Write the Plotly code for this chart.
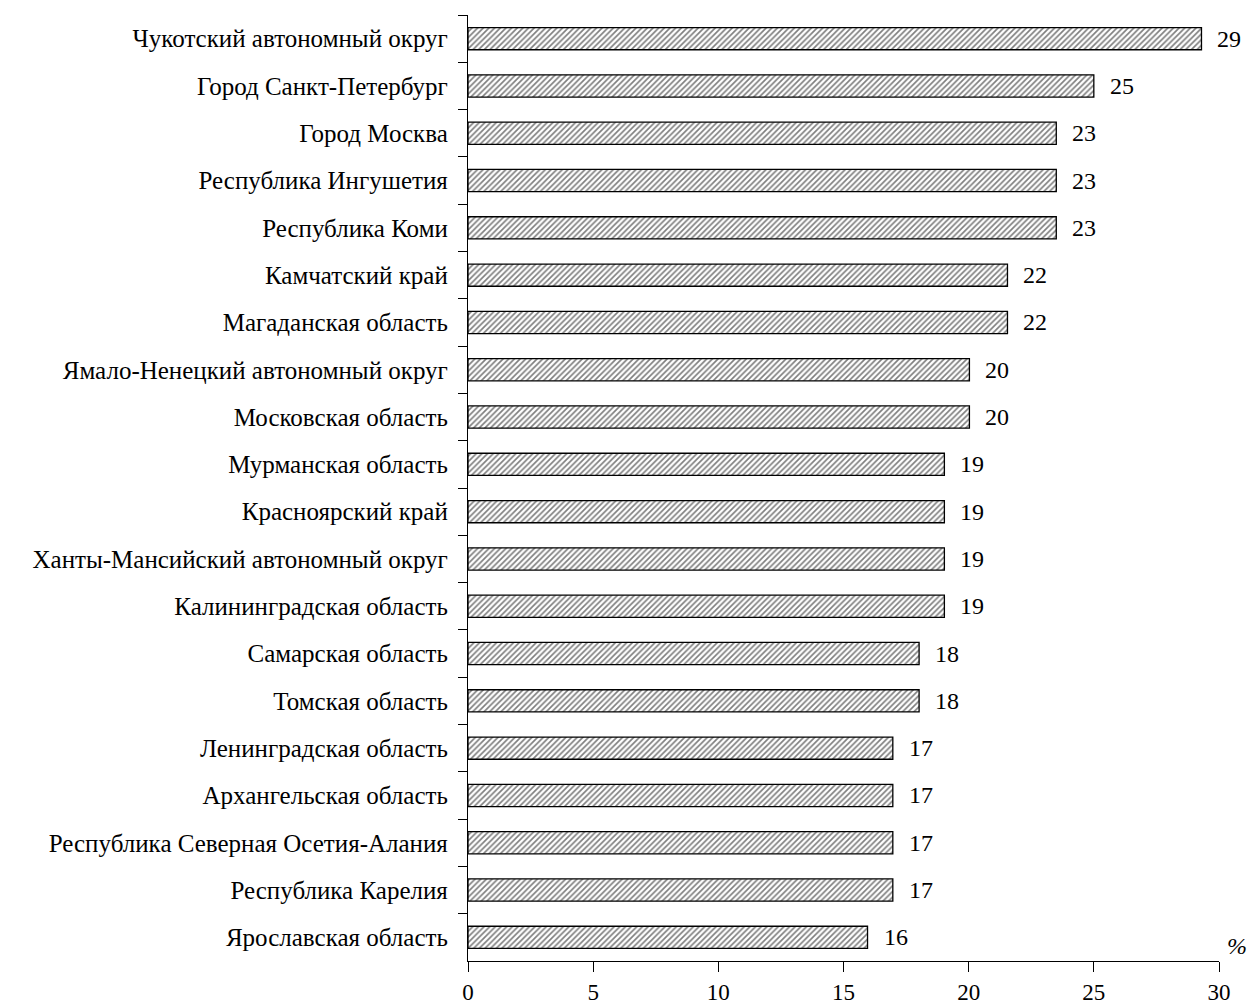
import plotly.graph_objects as go

regions = [
    "Чукотский автономный округ",
    "Город Санкт-Петербург",
    "Город Москва",
    "Республика Ингушетия",
    "Республика Коми",
    "Камчатский край",
    "Магаданская область",
    "Ямало-Ненецкий автономный округ",
    "Московская область",
    "Мурманская область",
    "Красноярский край",
    "Ханты-Мансийский автономный округ",
    "Калининградская область",
    "Самарская область",
    "Томская область",
    "Ленинградская область",
    "Архангельская область",
    "Республика Северная Осетия-Алания",
    "Республика Карелия",
    "Ярославская область",
]
values = [29.3, 25.0, 23.5, 23.5, 23.5, 21.55, 21.55, 20.03, 20.03, 19.03,
          19.03, 19.03, 19.03, 18.02, 18.02, 16.97, 16.97, 16.97, 16.97, 15.96]
value_labels = [29, 25, 23, 23, 23, 22, 22, 20, 20, 19,
                19, 19, 19, 18, 18, 17, 17, 17, 17, 16]
x_ticks = [0, 5, 10, 15, 20, 25, 30]

FONT = "Liberation Serif"

fig = go.Figure()
fig.add_trace(go.Bar(
    x=values, y=regions, orientation="h",
    marker=dict(
        color="white",
        line=dict(color="black", width=1.3),
        pattern=dict(shape="/", size=4, solidity=0.42, fgcolor="black", bgcolor="white"),
    ),
    hoverinfo="skip",
))

for v, lab, r in zip(values, value_labels, regions):
    fig.add_annotation(x=v, y=r, text=str(lab), showarrow=False,
                       xanchor="left", yanchor="middle", xshift=14,
                       font=dict(family=FONT, size=24, color="black"))

fig.add_annotation(x=1, y=0, xref="paper", yref="paper", text="<i>%</i>",
                   showarrow=False, xanchor="left", yanchor="bottom",
                   xshift=6, yshift=0,
                   font=dict(family=FONT, size=24, color="black"))

fig.update_layout(
    width=1249, height=1004,
    margin=dict(l=468, r=30, t=15, b=43, autoexpand=False),
    paper_bgcolor="white", plot_bgcolor="white",
    bargap=0.53,
    showlegend=False,
    font=dict(family=FONT, color="black"),
    xaxis=dict(
        range=[0, 30], tickvals=x_ticks, ticktext=[str(t) for t in x_ticks],
        showline=True, linecolor="black", linewidth=1.3,
        ticks="outside", ticklen=10, tickwidth=1.3, tickcolor="black",
        showgrid=False, zeroline=False, automargin=False,
        tickfont=dict(family=FONT, size=23, color="black"),
        ticklabelstandoff=0,
    ),
    yaxis=dict(
        range=[19.5, -0.5],
        showline=True, linecolor="black", linewidth=1.3,
        ticks="outside", tickson="boundaries", ticklen=9, tickwidth=1.3, tickcolor="black",
        showgrid=False, zeroline=False, automargin=False,
        tickfont=dict(family=FONT, size=25, color="black"),
        ticklabelstandoff=14,
    ),
)

fig.write_html("out.html", config={"displayModeBar": False},
               post_script="document.body.style.margin='0';document.body.style.overflow='hidden';")
